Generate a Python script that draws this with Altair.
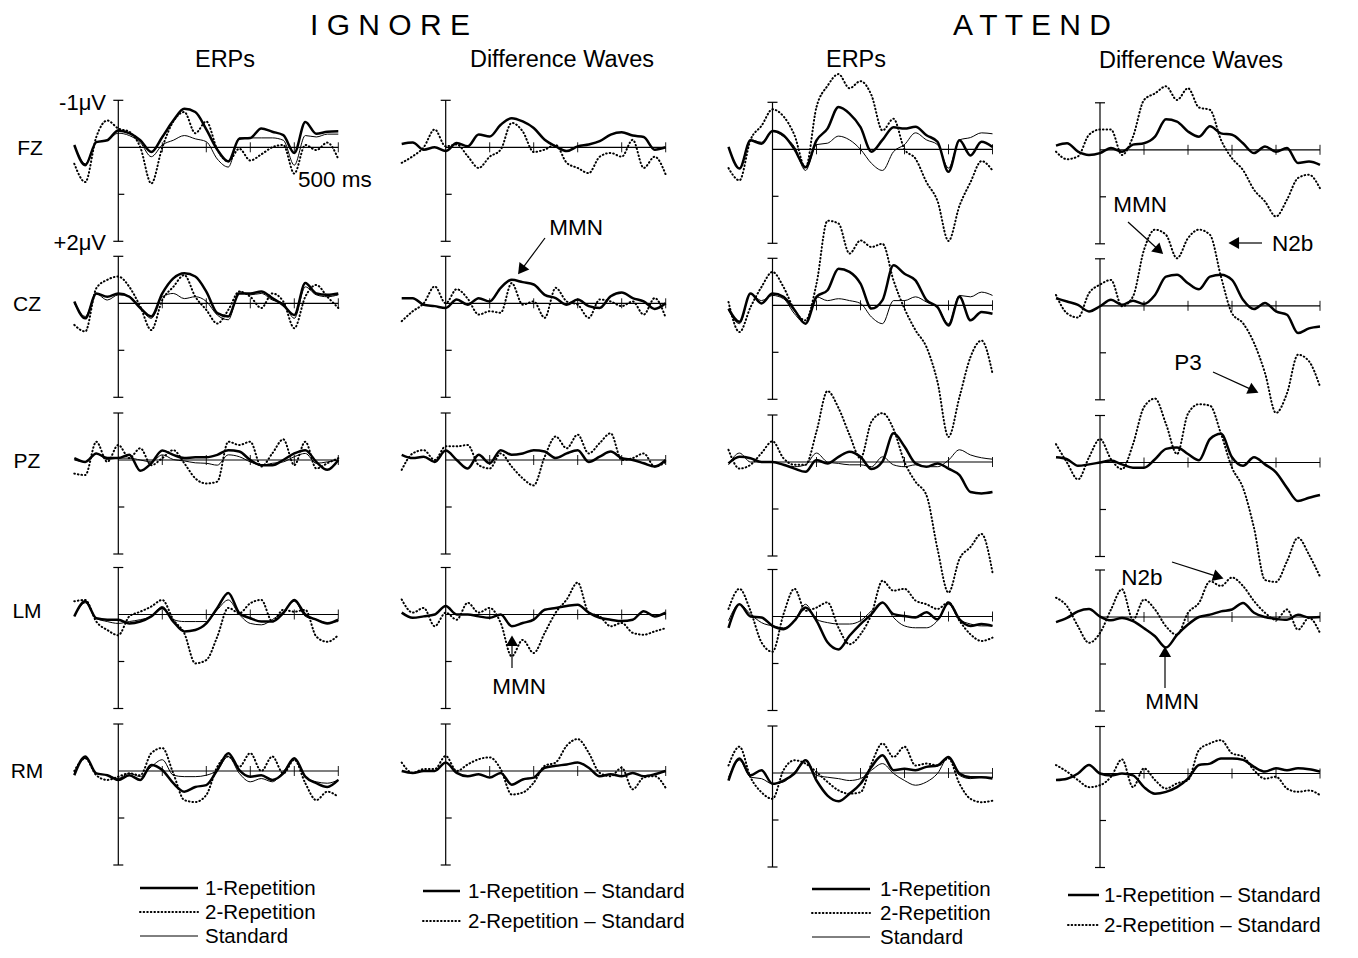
import math
import altair as alt
import pandas as pd

# ---------------- data (µV, negative = up) sampled every 25 ms ----------------
TIMES_MS = list(range(-100, 501, 25))

IGN_ERP_FZ_R1 = [-0.05, 0.38, -0.11, -0.15, -0.36, -0.30, -0.15, 0.10, -0.22, -0.57, -0.82, -0.75, -0.38, 0.05, 0.30, -0.18, -0.20, -0.40, -0.33, -0.26, 0.12, -0.54, -0.29, -0.33, -0.34]
IGN_ERP_FZ_STD = [-0.05, 0.35, -0.10, -0.15, -0.30, -0.25, -0.10, 0.20, -0.05, -0.15, -0.25, -0.18, -0.12, 0.25, 0.42, -0.20, -0.20, -0.20, -0.20, -0.15, 0.38, -0.25, -0.22, -0.28, -0.28]
IGN_ERP_FZ_R2 = [0.35, 0.74, -0.22, -0.57, -0.40, -0.33, 0.00, 0.77, 0.00, -0.55, -0.75, -0.30, -0.55, 0.05, 0.30, 0.03, 0.28, 0.15, 0.00, -0.05, 0.56, -0.05, 0.06, -0.10, 0.25]
IGN_DIF_FZ_R1 = [-0.07, -0.10, 0.05, 0.00, 0.08, -0.09, -0.02, -0.27, -0.23, -0.48, -0.62, -0.55, -0.41, -0.16, -0.02, 0.08, -0.02, -0.06, -0.13, -0.27, -0.32, -0.25, -0.22, 0.05, 0.00]
IGN_DIF_FZ_R2 = [0.33, 0.19, 0.00, -0.38, -0.02, -0.06, 0.19, 0.44, 0.20, 0.05, -0.52, -0.34, 0.10, 0.05, -0.05, 0.33, 0.44, 0.55, 0.20, 0.12, 0.20, -0.16, 0.44, 0.20, 0.58]
ATT_ERP_FZ_R1 = [-0.05, 0.41, -0.19, -0.12, -0.39, -0.30, 0.00, 0.38, -0.19, -0.44, -0.90, -0.76, -0.47, 0.05, -0.20, -0.47, -0.44, -0.48, -0.30, -0.16, 0.48, -0.19, 0.13, -0.16, -0.05]
ATT_ERP_FZ_STD = [-0.05, 0.40, -0.20, -0.15, -0.38, -0.27, -0.05, 0.45, -0.10, -0.13, -0.28, -0.20, 0.00, 0.30, 0.45, 0.05, -0.10, -0.35, -0.20, -0.10, 0.40, -0.20, -0.25, -0.35, -0.33]
ATT_ERP_FZ_R2 = [0.40, 0.66, -0.20, -0.50, -0.85, -0.70, -0.30, 0.40, -0.90, -1.35, -1.60, -1.30, -1.45, -1.15, -0.40, -0.65, 0.00, 0.20, 0.70, 1.10, 1.95, 1.20, 0.70, 0.25, 0.45]
ATT_DIF_FZ_R1 = [-0.09, -0.14, 0.04, 0.11, 0.07, -0.04, 0.04, -0.11, -0.14, -0.28, -0.65, -0.60, -0.39, -0.28, -0.50, -0.35, -0.32, -0.14, 0.07, -0.07, 0.04, -0.04, 0.28, 0.25, 0.32]
ATT_DIF_FZ_R2 = [0.04, 0.20, 0.14, -0.32, -0.43, -0.43, 0.11, -0.28, -1.06, -1.20, -1.35, -1.06, -1.31, -0.90, -0.85, -0.21, 0.18, 0.43, 0.85, 1.10, 1.42, 1.06, 0.60, 0.53, 0.82]

IGN_ERP_CZ_R1 = [-0.04, 0.32, -0.21, -0.14, -0.21, -0.14, 0.10, 0.28, -0.21, -0.53, -0.64, -0.57, -0.25, 0.21, 0.28, -0.21, -0.21, -0.25, -0.11, 0.04, 0.25, -0.43, -0.21, -0.18, -0.21]
IGN_ERP_CZ_STD = [0.00, 0.28, -0.20, -0.07, -0.18, -0.15, 0.10, 0.32, -0.14, -0.21, -0.10, -0.14, -0.04, 0.25, 0.35, -0.25, -0.18, -0.21, -0.07, 0.00, 0.32, -0.35, -0.18, -0.14, -0.18]
IGN_ERP_CZ_R2 = [0.46, 0.60, -0.32, -0.50, -0.57, -0.35, 0.07, 0.57, -0.07, -0.35, -0.60, -0.14, 0.14, 0.43, 0.14, -0.25, -0.14, 0.10, -0.21, -0.04, 0.53, -0.14, -0.39, -0.14, 0.10]
IGN_DIF_CZ_R1 = [-0.11, -0.11, 0.03, 0.06, 0.10, -0.08, 0.03, -0.11, -0.04, -0.33, -0.50, -0.45, -0.40, -0.18, -0.11, 0.03, -0.08, 0.06, 0.10, -0.15, -0.23, -0.11, -0.04, 0.12, 0.00]
IGN_DIF_CZ_R2 = [0.38, 0.17, 0.00, -0.36, 0.00, -0.30, -0.10, 0.24, 0.17, 0.20, -0.43, 0.03, -0.04, 0.31, -0.33, -0.04, 0.03, 0.31, -0.08, -0.04, 0.06, -0.04, 0.24, -0.11, 0.31]
ATT_ERP_CZ_R1 = [0.07, 0.35, -0.25, -0.04, -0.25, -0.18, 0.10, 0.39, -0.18, -0.32, -0.78, -0.71, -0.46, 0.07, -0.11, -0.85, -0.67, -0.53, -0.11, 0.04, 0.43, -0.18, 0.32, 0.14, 0.18]
ATT_ERP_CZ_STD = [0.10, 0.39, -0.25, -0.10, -0.21, -0.14, 0.18, 0.39, -0.18, -0.10, -0.14, -0.10, -0.04, 0.25, 0.39, -0.10, -0.10, -0.18, -0.07, 0.04, 0.39, -0.21, -0.18, -0.28, -0.21]
ATT_ERP_CZ_R2 = [-0.07, 0.57, 0.04, -0.39, -0.71, -0.39, 0.10, 0.32, -0.46, -1.80, -1.74, -1.10, -1.38, -1.24, -1.31, -0.53, 0.07, 0.53, 0.89, 1.63, 2.80, 1.95, 1.10, 0.75, 1.45]
ATT_DIF_CZ_R1 = [-0.16, -0.09, -0.02, 0.12, 0.01, -0.13, -0.02, -0.11, -0.04, -0.23, -0.62, -0.66, -0.48, -0.35, -0.62, -0.66, -0.55, -0.13, 0.07, -0.06, 0.12, 0.19, 0.58, 0.48, 0.44]
ATT_DIF_CZ_R2 = [-0.23, 0.16, 0.25, -0.27, -0.45, -0.55, 0.01, -0.20, -1.19, -1.62, -1.51, -1.01, -1.44, -1.62, -1.51, -0.62, 0.16, 0.37, 0.79, 1.43, 2.28, 1.86, 1.04, 1.18, 1.72]

IGN_ERP_PZ_R1 = [-0.04, 0.04, -0.14, -0.04, -0.04, -0.11, 0.23, 0.07, -0.20, -0.11, -0.04, -0.06, -0.06, -0.11, -0.21, -0.18, 0.00, 0.11, 0.11, 0.00, -0.14, -0.21, 0.04, 0.21, 0.00]
IGN_ERP_PZ_STD = [0.00, 0.04, -0.14, -0.01, -0.04, -0.04, 0.00, 0.04, -0.11, -0.01, 0.02, 0.06, 0.07, 0.11, -0.11, -0.07, 0.04, 0.11, 0.07, 0.04, -0.07, -0.14, 0.07, 0.04, 0.00]
IGN_ERP_PZ_R2 = [0.29, 0.32, -0.39, 0.04, -0.32, -0.04, -0.25, 0.11, -0.04, -0.21, 0.07, 0.39, 0.50, 0.46, -0.39, -0.32, -0.39, 0.14, -0.14, -0.44, 0.11, -0.39, 0.18, 0.07, -0.04]
IGN_DIF_PZ_R1 = [-0.11, -0.04, -0.07, 0.04, -0.20, 0.00, 0.18, -0.11, 0.07, -0.21, -0.11, -0.14, -0.21, -0.18, -0.04, -0.14, -0.21, 0.04, -0.07, -0.18, -0.04, 0.00, 0.07, 0.14, 0.00]
IGN_DIF_PZ_R2 = [0.21, -0.14, -0.21, 0.00, -0.29, -0.29, -0.32, 0.11, 0.18, -0.14, 0.14, 0.39, 0.54, -0.07, -0.50, -0.25, -0.54, -0.14, -0.36, -0.57, 0.00, -0.04, -0.14, 0.14, 0.04]
ATT_ERP_PZ_R1 = [0.03, -0.11, -0.08, 0.00, 0.00, 0.06, 0.14, 0.21, -0.04, 0.03, -0.11, -0.22, -0.11, 0.15, -0.01, -0.61, -0.33, 0.03, 0.10, 0.03, 0.14, 0.28, 0.64, 0.67, 0.64]
ATT_ERP_PZ_STD = [0.06, -0.19, 0.00, 0.00, 0.00, 0.06, 0.10, 0.06, -0.19, 0.00, 0.03, 0.06, 0.06, 0.10, -0.11, 0.06, 0.10, 0.06, 0.10, 0.10, -0.04, -0.26, -0.15, -0.09, -0.06]
ATT_ERP_PZ_R2 = [-0.26, 0.14, 0.06, -0.19, -0.44, -0.08, 0.06, 0.06, -0.65, -1.51, -1.15, -0.58, -0.08, -0.86, -1.04, -0.70, 0.00, 0.42, 0.71, 1.85, 2.78, 2.06, 1.81, 1.53, 2.35]
ATT_DIF_PZ_R1 = [-0.11, -0.07, 0.07, 0.04, 0.00, -0.04, 0.04, 0.11, 0.11, -0.07, -0.29, -0.32, -0.18, -0.05, -0.50, -0.61, -0.11, 0.07, -0.11, 0.04, 0.21, 0.54, 0.82, 0.75, 0.69]
ATT_DIF_PZ_R2 = [-0.39, 0.00, 0.36, -0.11, -0.50, -0.07, 0.14, -0.39, -1.18, -1.36, -0.82, -0.18, -1.04, -1.24, -1.21, -0.61, 0.11, 0.54, 1.39, 2.50, 2.54, 2.10, 1.60, 1.96, 2.43]

IGN_ERP_LM_R1 = [0.04, -0.28, 0.08, 0.11, 0.11, 0.19, 0.15, 0.04, -0.14, 0.15, 0.36, 0.33, 0.19, -0.14, -0.46, -0.03, 0.08, 0.15, 0.15, -0.03, -0.31, 0.00, 0.11, 0.19, 0.11]
IGN_ERP_LM_STD = [0.04, -0.25, 0.08, 0.15, 0.19, 0.15, 0.11, 0.04, -0.17, 0.11, 0.15, 0.15, 0.15, -0.10, -0.31, 0.00, 0.19, 0.22, 0.11, -0.06, -0.28, 0.04, 0.11, 0.17, 0.15]
IGN_ERP_LM_R2 = [-0.28, -0.31, 0.15, 0.33, 0.44, 0.04, -0.06, -0.17, -0.31, 0.11, 0.40, 1.04, 0.97, 0.47, -0.14, -0.03, -0.24, -0.31, 0.15, -0.10, -0.06, -0.10, 0.47, 0.58, 0.44]
IGN_DIF_LM_R1 = [-0.04, 0.07, 0.04, 0.00, -0.18, 0.00, 0.00, 0.04, 0.07, 0.00, 0.25, 0.18, 0.11, -0.10, -0.14, -0.18, -0.21, -0.04, 0.07, 0.11, 0.14, 0.11, -0.07, 0.04, -0.04]
IGN_DIF_LM_R2 = [-0.32, -0.04, -0.14, 0.25, -0.04, 0.11, -0.25, -0.04, -0.14, 0.18, 0.89, 0.54, 0.82, 0.39, -0.04, -0.32, -0.68, -0.04, 0.04, 0.25, 0.18, 0.39, 0.43, 0.36, 0.29]
ATT_ERP_LM_R1 = [0.24, -0.26, 0.00, 0.02, 0.20, 0.27, 0.09, -0.19, 0.09, 0.55, 0.70, 0.41, 0.16, -0.05, -0.30, -0.05, -0.01, 0.02, -0.09, 0.06, -0.30, 0.06, 0.20, 0.16, 0.20]
ATT_ERP_LM_STD = [0.09, -0.26, -0.05, 0.13, 0.20, 0.24, 0.09, -0.26, 0.06, 0.13, 0.16, 0.16, 0.09, -0.12, -0.30, 0.02, 0.20, 0.24, 0.24, 0.09, -0.26, 0.06, 0.16, 0.20, 0.20]
ATT_ERP_LM_R2 = [-0.16, -0.59, -0.12, 0.55, 0.75, -0.05, -0.59, -0.12, -0.19, -0.30, 0.24, 0.59, 0.38, -0.05, -0.76, -0.55, -0.59, -0.34, -0.26, -0.16, -0.30, 0.09, 0.38, 0.52, 0.45]
ATT_DIF_LM_R1 = [0.11, 0.02, -0.12, -0.17, -0.01, 0.07, 0.02, 0.09, 0.24, 0.41, 0.65, 0.38, 0.16, 0.00, -0.05, -0.12, -0.16, -0.30, -0.09, 0.00, 0.04, 0.06, -0.05, 0.01, 0.00]
ATT_DIF_LM_R2 = [-0.41, -0.23, 0.20, 0.55, 0.34, -0.16, -0.59, 0.06, -0.37, -0.16, 0.20, 0.38, -0.09, -0.30, -0.76, -0.66, -0.84, -0.66, -0.34, -0.09, 0.06, -0.16, 0.27, 0.02, 0.34]

IGN_ERP_RM_R1 = [0.09, -0.31, 0.05, 0.09, 0.19, 0.09, 0.19, -0.13, -0.02, 0.26, 0.44, 0.34, 0.30, -0.02, -0.38, -0.02, 0.12, 0.09, 0.19, 0.05, -0.27, 0.12, 0.26, 0.34, 0.19]
IGN_ERP_RM_STD = [0.05, -0.27, 0.05, 0.09, 0.16, 0.05, 0.12, -0.09, -0.24, 0.09, 0.12, 0.12, 0.09, -0.02, -0.31, 0.05, 0.23, 0.16, 0.23, 0.01, -0.24, 0.12, 0.23, 0.26, 0.19]
IGN_ERP_RM_R2 = [0.00, -0.27, 0.09, 0.19, 0.12, 0.05, 0.09, -0.38, -0.49, 0.05, 0.62, 0.66, 0.51, -0.09, -0.31, -0.09, -0.38, 0.00, -0.31, 0.05, -0.24, 0.26, 0.62, 0.44, 0.55]
IGN_DIF_RM_R1 = [0.00, 0.04, 0.00, 0.00, -0.18, 0.04, 0.11, 0.07, 0.14, 0.04, 0.29, 0.18, 0.14, -0.07, -0.11, -0.14, -0.18, -0.07, 0.11, 0.07, 0.11, 0.04, 0.11, 0.07, 0.00]
IGN_DIF_RM_R2 = [-0.18, 0.04, -0.04, -0.04, -0.32, 0.00, -0.14, -0.25, -0.29, -0.04, 0.50, 0.46, 0.25, -0.11, -0.18, -0.54, -0.68, -0.39, 0.04, 0.11, -0.07, 0.39, 0.14, 0.11, 0.36]
ATT_ERP_RM_R1 = [0.16, -0.31, 0.05, -0.06, 0.23, 0.16, 0.01, -0.27, 0.16, 0.48, 0.60, 0.44, 0.23, -0.13, -0.38, -0.06, -0.09, -0.06, -0.13, -0.16, -0.34, 0.01, 0.09, 0.09, 0.12]
ATT_ERP_RM_STD = [0.09, -0.27, 0.09, 0.12, 0.23, 0.19, -0.02, -0.27, 0.05, 0.09, 0.12, 0.16, 0.12, -0.06, -0.20, 0.01, 0.16, 0.26, 0.19, 0.01, -0.34, 0.05, 0.12, 0.09, 0.09]
ATT_ERP_RM_R2 = [-0.16, -0.56, 0.09, 0.41, 0.55, -0.06, -0.27, -0.20, -0.02, 0.19, 0.37, 0.44, 0.41, -0.20, -0.63, -0.34, -0.56, -0.16, -0.20, -0.16, -0.31, 0.23, 0.55, 0.62, 0.59]
ATT_DIF_RM_R1 = [0.14, 0.11, 0.00, -0.18, 0.00, 0.04, 0.00, 0.04, 0.29, 0.43, 0.39, 0.29, 0.11, -0.18, -0.21, -0.32, -0.32, -0.29, -0.14, -0.04, -0.11, -0.07, -0.11, -0.09, -0.04]
ATT_DIF_RM_R2 = [-0.18, -0.04, 0.14, 0.29, 0.25, 0.07, -0.30, 0.29, -0.11, 0.14, 0.32, 0.21, 0.14, -0.50, -0.64, -0.71, -0.43, -0.36, -0.07, 0.11, 0.07, 0.32, 0.39, 0.36, 0.46]

COLUMNS = ["IGN_ERP", "IGN_DIF", "ATT_ERP", "ATT_DIF"]
ROWS = ["FZ", "CZ", "PZ", "LM", "RM"]
SERIES = ["R1", "R2", "STD"]
UV_TICKS = [-1, 1, 2]
MS_TICKS = [100, 200, 300, 400, 500]

# ---------------- layout (page pixels) ----------------
AXIS_X = [118.3, 445.7, 772.5, 1100.0]
COL_DY = [0.0, 0.0, 2.0, 2.5]
BASE_Y = [147.3, 303.3, 460.0, 614.5, 771.0]
PX_PER_MS = 0.44
PX_PER_UV = 47.0
FONT = "Liberation Sans"

XS = alt.Scale(domain=[8, 1350], nice=False, zero=False)
YS = alt.Scale(domain=[8, 950], nice=False, zero=False, reverse=True)


def X(f):
    return alt.X(f, type="quantitative", scale=XS, axis=None)


def Y(f):
    return alt.Y(f, type="quantitative", scale=YS, axis=None)


# waves
rows = []
frames = []
for ci, c in enumerate(COLUMNS):
    for ri, r in enumerate(ROWS):
        ox = AXIS_X[ci]
        oy = BASE_Y[ri] + COL_DY[ci]
        frames.append({"ox": ox, "oy": oy})
        for s in SERIES:
            name = f"{c}_{r}_{s}"
            if name not in globals():
                continue
            vals = globals()[name]
            for t, v in zip(TIMES_MS, vals):
                rows.append({"panel": f"{c}_{r}", "series": s, "t": t, "uv": v, "ox": ox, "oy": oy})
waves = pd.DataFrame(rows)
frame_df = pd.DataFrame(frames)

calc = dict(px=f"datum.ox + datum.t * {PX_PER_MS}", py=f"datum.oy + datum.uv * {PX_PER_UV}")


def wave_layer(series, **mark):
    return (
        alt.Chart(waves)
        .transform_filter(alt.datum.series == series)
        .transform_calculate(**calc)
        .mark_line(color="black", interpolate="monotone", **mark)
        .encode(x=X("px"), y=Y("py"), detail="panel:N", order="t:Q")
    )


thin = wave_layer("STD", strokeWidth=1.0)
dotted = wave_layer("R2", strokeWidth=2.0, strokeDash=[0.6, 3.0], strokeCap="round")
thick = wave_layer("R1", strokeWidth=2.5)

# axes
vax = pd.DataFrame({"x": frame_df.ox, "y1": frame_df.oy - 1 * PX_PER_UV, "y2": frame_df.oy + 2 * PX_PER_UV})
hax = pd.DataFrame({"x1": frame_df.ox, "x2": frame_df.ox + 500 * PX_PER_MS, "y": frame_df.oy})
tk = []
for _, f in frame_df.iterrows():
    for u in UV_TICKS:
        if u == 1:
            tk.append({"x1": f.ox, "x2": f.ox + 6, "y": f.oy + u * PX_PER_UV})
        else:
            tk.append({"x1": f.ox - 5, "x2": f.ox + 5, "y": f.oy + u * PX_PER_UV})
htk = pd.DataFrame(tk)
ttk = pd.DataFrame([{"x": f.ox + m * PX_PER_MS, "y1": f.oy - 5, "y2": f.oy + 5}
                    for _, f in frame_df.iterrows() for m in MS_TICKS])

AX_STYLE = dict(color="black", strokeWidth=1.2)
vaxis = alt.Chart(vax).mark_rule(**AX_STYLE).encode(x=X("x"), y=Y("y1"), y2="y2:Q")
haxis = alt.Chart(hax).mark_rule(**AX_STYLE).encode(x=X("x1"), x2="x2:Q", y=Y("y"))
uvticks = alt.Chart(htk).mark_rule(**AX_STYLE).encode(x=X("x1"), x2="x2:Q", y=Y("y"))
msticks = alt.Chart(ttk).mark_rule(color="black", strokeWidth=0.9).encode(x=X("x"), y=Y("y1"), y2="y2:Q")

# legends
LEG_TEXT_X = [205, 205, 205, 468, 468, 880, 880, 880, 1104, 1104]
LEG_Y = [888, 912, 936, 891, 921, 889, 913, 937, 895, 925]
LEG_X1 = [140, 140, 140, 423, 423, 812, 812, 812, 1068, 1068]
LEG_X2 = [198, 198, 198, 460, 460, 870, 870, 870, 1099, 1099]
LEG_STYLE = ["R1", "R2", "STD", "R1", "R2", "R1", "R2", "STD", "R1", "R2"]
LEG_LABEL = ["1-Repetition", "2-Repetition", "Standard",
             "1-Repetition – Standard", "2-Repetition – Standard",
             "1-Repetition", "2-Repetition", "Standard",
             "1-Repetition – Standard", "2-Repetition – Standard"]
leg = pd.DataFrame({"x1": LEG_X1, "x2": LEG_X2, "y": LEG_Y, "s": LEG_STYLE,
                    "tx": LEG_TEXT_X, "ty": [v + 7 for v in LEG_Y], "label": LEG_LABEL})
leg_r1 = alt.Chart(leg).transform_filter(alt.datum.s == "R1").mark_rule(color="black", strokeWidth=2.5).encode(x=X("x1"), x2="x2:Q", y=Y("y"))
leg_r2 = alt.Chart(leg).transform_filter(alt.datum.s == "R2").mark_rule(color="black", strokeWidth=2.0, strokeDash=[0.6, 3.0], strokeCap="round").encode(x=X("x1"), x2="x2:Q", y=Y("y"))
leg_std = alt.Chart(leg).transform_filter(alt.datum.s == "STD").mark_rule(color="black", strokeWidth=1.0).encode(x=X("x1"), x2="x2:Q", y=Y("y"))
leg_txt = alt.Chart(leg).mark_text(align="left", baseline="alphabetic", font=FONT, fontSize=20.5, color="black").encode(x=X("tx"), y=Y("ty"), text="label:N")

# texts
TXT = [
    # text, x, y(baseline), size, align
    ("I G N O R E", 390, 35, 30, "center"),
    ("A T T E N D", 1032, 35, 30, "center"),
    ("ERPs", 225, 67, 23.5, "center"),
    ("Difference Waves", 562, 67, 23.5, "center"),
    ("ERPs", 856, 67, 23.5, "center"),
    ("Difference Waves", 1191, 68, 23.5, "center"),
    ("FZ", 30, 155, 21, "center"),
    ("CZ", 27, 311, 21, "center"),
    ("PZ", 27, 468, 21, "center"),
    ("LM", 27, 618, 21, "center"),
    ("RM", 27, 778, 21, "center"),
    ("-1μV", 106, 110, 22, "right"),
    ("+2μV", 106, 250, 22, "right"),
    ("500 ms", 298, 187, 22.5, "left"),
    ("MMN", 576, 235, 22.5, "center"),
    ("MMN", 519, 694, 22.5, "center"),
    ("MMN", 1140, 212, 22.5, "center"),
    ("N2b", 1272, 251, 22.5, "left"),
    ("P3", 1188, 370, 22.5, "center"),
    ("N2b", 1142, 585, 22.5, "center"),
    ("MMN", 1172, 709, 22.5, "center"),
]
txt = pd.DataFrame(TXT, columns=["text", "x", "y", "size", "align"])
text_layers = []
for al in ["center", "left", "right"]:
    text_layers.append(
        alt.Chart(txt).transform_filter(alt.datum.align == al)
        .mark_text(align=al, baseline="alphabetic", font=FONT, color="black")
        .encode(x=X("x"), y=Y("y"), text="text:N", size=alt.Size("size:Q", scale=None))
    )

# arrows
ARROW_START_X = [545, 512, 1128, 1262, 1213, 1172, 1165]
ARROW_START_Y = [238, 668, 222, 243, 372, 562, 688]
ARROW_TIP_X = [519, 512, 1162, 1230, 1257, 1222, 1165]
ARROW_TIP_Y = [273, 637, 253, 243, 392, 578, 648]
arr = []
for sx, sy, tx, ty in zip(ARROW_START_X, ARROW_START_Y, ARROW_TIP_X, ARROW_TIP_Y):
    dx, dy = tx - sx, ty - sy
    L = math.hypot(dx, dy)
    ux, uy = dx / L, dy / L
    arr.append({"sx": sx, "sy": sy, "ex": tx - ux * 7, "ey": ty - uy * 7,
                "cx": tx - ux * 5.5, "cy": ty - uy * 5.5,
                "ang": math.degrees(math.atan2(dx, -dy)) % 360})
arr = pd.DataFrame(arr)
arrow_lines = alt.Chart(arr).mark_rule(color="black", strokeWidth=1.2).encode(x=X("sx"), y=Y("sy"), x2="ex:Q", y2="ey:Q")
arrow_heads = alt.Chart(arr).mark_point(shape="triangle", filled=True, color="black", opacity=1, size=150).encode(
    x=X("cx"), y=Y("cy"), angle=alt.Angle("ang:Q", scale=None))

chart = alt.layer(
    vaxis, haxis, uvticks, msticks, thin, dotted, thick,
    leg_r1, leg_r2, leg_std, leg_txt, *text_layers, arrow_lines, arrow_heads,
).properties(
    width=1342, height=942, autosize=alt.AutoSizeParams(type="none"), padding=0, background="white"
).configure_view(stroke=None)

chart.save("out.html", embed_options={"renderer": "svg", "actions": False})
